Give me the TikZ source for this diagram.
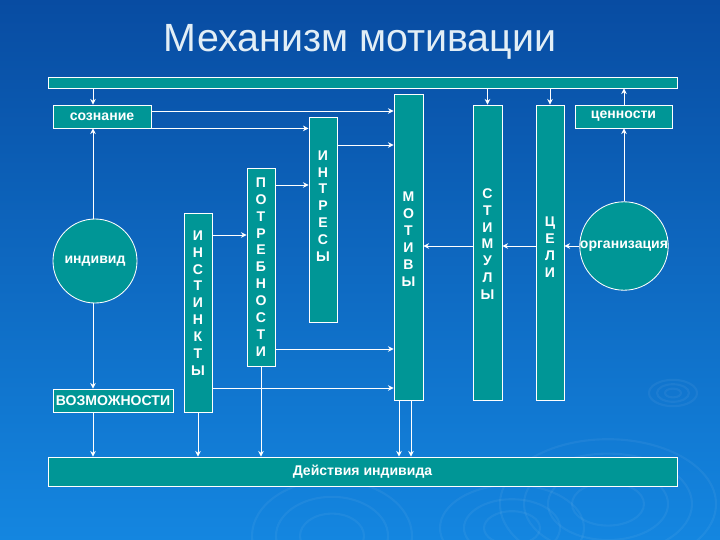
\documentclass[tikz,border=0pt]{standalone}
\usepackage{fontspec}
\setmainfont{Liberation Sans}
\usetikzlibrary{arrows.meta, calc}
\definecolor{mot-bgtop}{RGB}{8,76,162}
\definecolor{mot-bgbot}{RGB}{20,134,224}
\definecolor{mot-teal}{RGB}{0,150,150}
\definecolor{mot-title}{RGB}{226,238,246}

\begin{document}
\begin{tikzpicture}[
  box/.style={draw=white, fill=mot-teal, line width=0.6pt, inner sep=0pt, font=\bfseries\fontsize{10}{12}\selectfont, text=white, align=center},
  col/.style={box, minimum width=0.7cm},
  blob/.style={box, circle, minimum size=2.1cm},
  letters/.style={font=\bfseries\fontsize{10}{12}\selectfont, text=white, align=center, inner sep=0pt},
  arr/.style={draw=white, line width=0.6pt, -{Stealth[length=4pt, width=4pt]}},
  ripple/.style={draw=white, opacity=0.05, line width=1.5pt},
]
  % Background
  \useasboundingbox (0,0) rectangle (18,-13.5);
  \fill[top color=mot-bgtop, bottom color=mot-bgbot] (0,0) rectangle (18,-13.5);
  \begin{scope}
    \clip (0,0) rectangle (18,-13.5);
    \foreach \r in {0.2,0.4,0.6}
      \draw[ripple] (16.825,-9.825) ellipse ({\r} and {\r*0.55});
    \foreach \r in {0.9,1.5,2.1,2.7}
      \draw[ripple] (15.2,-12.6) ellipse ({\r} and {\r*0.6});
    \foreach \r in {0.8,1.4,2.0}
      \draw[ripple] (8.3,-13.4) ellipse ({\r} and {\r*0.7});
    \foreach \r in {0.7,1.2,1.8}
      \draw[ripple] (12.8,-13.2) ellipse ({\r} and {\r*0.6});
  \end{scope}

  % Title
  \node[font=\fontsize{28}{30}\selectfont, text=mot-title] (title) at (9,-1.05) {Механизм мотивации};

  % Bars
  \node[box, minimum width=15.725cm, minimum height=0.275cm] (bar) at (9.0625,-2.0625) {};
  \node[box, minimum width=15.725cm, minimum height=0.725cm] (deyst) at (9.0625,-11.7875) {Действия индивида};

  % Left side
  \node[box, minimum width=2.45cm, minimum height=0.575cm] (sozn) at (2.55,-2.9125) {сознание};
  \node[blob] (indiv) at (2.375,-6.525) {индивид};
  \node[box, minimum width=3cm, minimum height=0.575cm] (vozm) at (2.825,-10.0125) {ВОЗМОЖНОСТИ};

  % Columns
  \node[col, minimum height=4.975cm] (inst) at (4.95,-7.8125) {};
  \node[col, minimum height=4.95cm] (potr) at (6.525,-6.675) {};
  \node[col, minimum height=5.125cm] (intr) at (8.075,-5.4875) {};
  \node[col, minimum width=0.725cm, minimum height=7.65cm] (motiv) at (10.2125,-6.175) {};
  \node[col, minimum width=0.725cm, minimum height=7.375cm] (stim) at (12.1875,-6.3125) {};
  \node[col, minimum height=7.375cm] (celi) at (13.75,-6.3125) {};

  \node[letters] (inst-t) at (4.95,-7.575) {И\\Н\\С\\Т\\И\\Н\\К\\Т\\Ы};
  \node[letters] (potr-t) at (6.525,-6.675) {П\\О\\Т\\Р\\Е\\Б\\Н\\О\\С\\Т\\И};
  \node[letters] (intr-t) at (8.075,-5.15) {И\\Н\\Т\\Р\\Е\\С\\Ы};
  \node[letters] (motiv-t) at (10.2125,-5.975) {М\\О\\Т\\И\\В\\Ы};
  \node[letters] (stim-t) at (12.1875,-6.1) {С\\Т\\И\\М\\У\\Л\\Ы};
  \node[letters] (celi-t) at (13.75,-6.175) {Ц\\Е\\Л\\И};

  % Right side
  \node[box, minimum width=2.425cm, minimum height=0.575cm] (cenn) at (15.5875,-2.9125) {ценности};
  \node[blob] (org) at (15.6,-6.15) {организация};

  % Rows
  \coordinate (colA) at (2.325,0);
  \coordinate (rowSM) at (0,-2.775);
  \coordinate (rowIM) at (0,-3.625);
  \coordinate (rowPI) at (0,-4.625);
  \coordinate (rowIP) at (0,-5.875);
  \coordinate (rowPM) at (0,-8.725);
  \coordinate (rowNM) at (0,-9.7);

  % Left column arrows
  \draw[arr] (bar.south -| colA) -- (sozn.north -| colA);
  \draw[arr] (indiv.north -| colA) -- (sozn.south -| colA);
  \draw[arr] (indiv.south -| colA) -- (vozm.north -| colA);
  \draw[arr] (vozm.south -| colA) -- (deyst.north -| colA);

  % Into the columns
  \draw[arr] (sozn.east |- rowSM) -- (motiv.west |- rowSM);
  \draw[arr] (sozn.south east) -- (sozn.south east -| intr.west);
  \draw[arr] (intr.east |- rowIM) -- (motiv.west |- rowIM);
  \draw[arr] (potr.east |- rowPI) -- (intr.west |- rowPI);
  \draw[arr] (inst.east |- rowIP) -- (potr.west |- rowIP);
  \draw[arr] (potr.east |- rowPM) -- (motiv.west |- rowPM);
  \draw[arr] (inst.east |- rowNM) -- (motiv.west |- rowNM);

  % Down to actions
  \draw[arr] (inst.south) -- (inst.south |- deyst.north);
  \draw[arr] (potr.south) -- (potr.south |- deyst.north);
  \draw[arr] ([xshift=-0.2375cm]motiv.south) -- ([xshift=-0.2375cm]motiv.south |- deyst.north);
  \draw[arr] ([xshift=0.0625cm]motiv.south) -- ([xshift=0.0625cm]motiv.south |- deyst.north);

  % Right side arrows
  \draw[arr] (bar.south -| stim) -- (stim.north);
  \draw[arr] (bar.south -| celi) -- (celi.north);
  \draw[arr] (cenn.north -| org) -- (bar.south -| org);
  \draw[arr] (org.north) -- (cenn.south -| org);
  \draw[arr] (org.west) -- (org.west -| celi.east);
  \draw[arr] (celi.west |- org.west) -- (stim.east |- org.west);
  \draw[arr] (stim.west |- org.west) -- (motiv.east |- org.west);
\end{tikzpicture}
\end{document}
